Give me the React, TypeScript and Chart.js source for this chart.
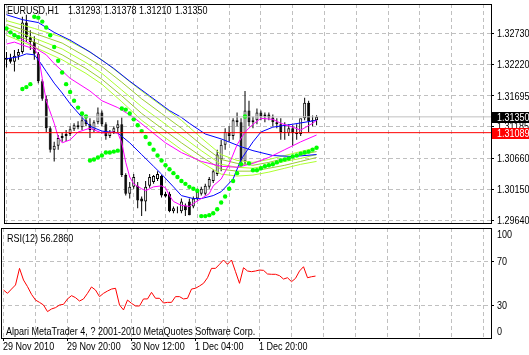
import React, { useEffect, useRef } from "react";
import { Chart, registerables } from "chart.js";

Chart.register(...registerables);

const FONT_FAMILY = "'Liberation Sans', Arial, sans-serif";

// ---------------- texts ----------------
const symbolLabel = "EURUSD,H1";
const lastBarValues = ["1.31293", "1.31378", "1.31210", "1.31350"];
const rsiLabel = "RSI(12) 56.2860";
const copyrightLabel = "Alpari MetaTrader 4, ? 2001-2010 MetaQuotes Software Corp.";

// ---------------- axes ----------------
const timeTickBars = [0, 16, 32, 48, 64];
const timeTickLabels = ["29 Nov 2010", "29 Nov 20:00", "30 Nov 12:00", "1 Dec 04:00", "1 Dec 20:00"];
const gridBars = [0, 8, 16, 24, 32, 40, 48, 56, 64, 72, 80, 88, 96, 104, 112, 120];
const priceTicks = [1.2964, 1.3015, 1.3066, 1.31185, 1.31695, 1.3222, 1.3273];
const rsiTicks = [30, 70];
const rsiEdgeTicks = [100, 0];
const bidPrice = 1.3135;
const markPrice = 1.31089;

// ---------------- candles (H1) ----------------
const opens = [
  1.32294, 1.32326, 1.32262, 1.32359, 1.32423, 1.32908, 1.32666, 1.32585, 1.32391, 1.31939,
  1.31648, 1.31163, 1.30808, 1.30873, 1.31002, 1.31034, 1.31067, 1.31147, 1.31212, 1.31180,
  1.31293, 1.31228, 1.31131, 1.31260, 1.31422, 1.31228, 1.31034, 1.31099, 1.31163, 1.31228,
  1.30388, 1.30081, 1.30194, 1.30210, 1.30000, 1.29952, 1.30210, 1.30275, 1.30323, 1.30372,
  1.30081, 1.30081, 1.29790, 1.29807, 1.29790, 1.29887, 1.29952, 1.29871, 1.30000, 1.30081,
  1.30081, 1.30194, 1.30291, 1.30404, 1.30646, 1.30889, 1.31099, 1.31034, 1.31293, 1.31260,
  1.30614, 1.31454, 1.31260, 1.31293, 1.31422, 1.31357, 1.31390, 1.31341, 1.31260, 1.31228,
  1.31099, 1.31083, 1.31163, 1.31083, 1.31067, 1.31325, 1.31583, 1.31277, 1.31293,
];
const highs = [
  1.32423, 1.32391, 1.32456, 1.32472, 1.33005, 1.33037, 1.32779, 1.32682, 1.32423, 1.31971,
  1.31697, 1.31196, 1.30937, 1.31050, 1.31083, 1.31131, 1.31196, 1.31244, 1.31277, 1.31422,
  1.31357, 1.31325, 1.31293, 1.31503, 1.31454, 1.31260, 1.31131, 1.31196, 1.31293, 1.31341,
  1.30420, 1.30275, 1.30404, 1.30275, 1.30033, 1.30291, 1.30404, 1.30388, 1.30453, 1.30388,
  1.30113, 1.30113, 1.29871, 1.29871, 1.30000, 1.29920, 1.30000, 1.30033, 1.30162, 1.30194,
  1.30243, 1.30356, 1.30485, 1.30808, 1.30970, 1.31163, 1.31196, 1.31325, 1.31422, 1.31325,
  1.31777, 1.31616, 1.31357, 1.31487, 1.31454, 1.31422, 1.31422, 1.31390, 1.31325, 1.31325,
  1.31260, 1.31228, 1.31212, 1.31228, 1.31260, 1.31664, 1.31616, 1.31373, 1.31378,
];
const lows = [
  1.32165, 1.32230, 1.32100, 1.32294, 1.32391, 1.32585, 1.32456, 1.32294, 1.31907, 1.31616,
  1.31099, 1.30760, 1.30614, 1.30808, 1.30937, 1.30953, 1.31034, 1.31115, 1.31147, 1.31131,
  1.31196, 1.31002, 1.31099, 1.31228, 1.31196, 1.30970, 1.31002, 1.31067, 1.31099, 1.30356,
  1.30049, 1.30000, 1.30162, 1.29839, 1.29710, 1.29790, 1.30178, 1.30243, 1.30291, 1.30017,
  1.30017, 1.29774, 1.29758, 1.29758, 1.29758, 1.29710, 1.29726, 1.29839, 1.29968, 1.30049,
  1.30049, 1.30162, 1.30259, 1.30372, 1.30453, 1.30808, 1.30937, 1.30970, 1.31196, 1.30550,
  1.30566, 1.31196, 1.31163, 1.31228, 1.31293, 1.31260, 1.31293, 1.31196, 1.31163, 1.30970,
  1.30970, 1.31034, 1.30873, 1.30970, 1.31034, 1.31293, 1.31099, 1.31196, 1.31210,
];
const closes = [
  1.32326, 1.32262, 1.32359, 1.32423, 1.32908, 1.32666, 1.32585, 1.32391, 1.31939, 1.31648,
  1.31163, 1.30808, 1.30873, 1.31002, 1.31034, 1.31067, 1.31147, 1.31212, 1.31180, 1.31293,
  1.31228, 1.31131, 1.31260, 1.31422, 1.31228, 1.31034, 1.31099, 1.31163, 1.31228, 1.30388,
  1.30081, 1.30194, 1.30356, 1.29968, 1.29952, 1.30194, 1.30356, 1.30372, 1.30404, 1.30049,
  1.30033, 1.29790, 1.29839, 1.29807, 1.29952, 1.29807, 1.29726, 1.30000, 1.30113, 1.30162,
  1.30210, 1.30323, 1.30453, 1.30727, 1.30889, 1.31099, 1.31034, 1.31293, 1.31260, 1.30614,
  1.31454, 1.31260, 1.31293, 1.31422, 1.31357, 1.31390, 1.31341, 1.31260, 1.31228, 1.31099,
  1.31083, 1.31163, 1.31083, 1.31067, 1.31325, 1.31583, 1.31277, 1.31293, 1.31350,
];

// ---------------- moving averages (bar index, price) ----------------
const blueSlowBars = [0, 4, 8, 12, 16, 21, 27, 31, 36, 41, 44, 46, 50, 54, 59, 62, 67, 72, 78];
const blueSlowValues = [1.33037, 1.32956, 1.32908, 1.32746, 1.32617, 1.32423, 1.32149, 1.31939, 1.31697, 1.31454, 1.31341, 1.31244, 1.31067, 1.30986, 1.30857, 1.30792, 1.30711, 1.30695, 1.30727];

const blueFastBars = [0, 3, 5, 7, 8, 10, 12, 14, 16, 19, 21, 24, 28, 31, 34, 37, 39, 42, 44, 47, 49, 52, 54, 57, 59, 62, 64, 67, 72, 78];
const blueFastValues = [1.32310, 1.32343, 1.32391, 1.32375, 1.32294, 1.32100, 1.31907, 1.31745, 1.31567, 1.31341, 1.31196, 1.31115, 1.31083, 1.30921, 1.30727, 1.30533, 1.30404, 1.30194, 1.30049, 1.30000, 1.30000, 1.30049, 1.30113, 1.30323, 1.30646, 1.30937, 1.31099, 1.31180, 1.31228, 1.31293];

const magentaFastBars = [0, 2, 4, 7, 8, 9, 10, 12, 13, 14, 16, 18, 21, 24, 27, 28, 29, 30, 31, 32, 34, 35, 37, 39, 40, 41, 42, 44, 46, 47, 49, 51, 52, 54, 56, 58, 60, 62, 64, 67, 69, 72, 74, 77, 78];
const magentaFastValues = [1.32553, 1.32585, 1.32536, 1.32472, 1.32375, 1.31987, 1.31616, 1.31244, 1.31018, 1.30921, 1.30970, 1.31099, 1.31163, 1.31083, 1.31099, 1.31083, 1.30921, 1.30598, 1.30356, 1.30243, 1.30162, 1.30130, 1.30194, 1.30210, 1.30178, 1.30049, 1.29952, 1.29887, 1.29871, 1.29920, 1.30000, 1.30081, 1.30210, 1.30323, 1.30566, 1.30889, 1.31099, 1.31228, 1.31325, 1.31309, 1.31244, 1.31180, 1.31131, 1.31244, 1.31293];

const magentaSlowBars = [0, 2, 6, 8, 10, 12, 16, 21, 24, 28, 32, 36, 40, 44, 49, 54, 58, 62, 66, 70, 74, 78];
const magentaSlowValues = [1.32779, 1.32698, 1.32553, 1.32456, 1.32375, 1.32230, 1.31987, 1.31777, 1.31616, 1.31503, 1.31341, 1.31131, 1.30921, 1.30760, 1.30614, 1.30533, 1.30517, 1.30582, 1.30679, 1.30808, 1.30937, 1.31050];

// ribbon of slower averages (yellow-green)
const ribbonBars = [0, 7, 14, 20, 24, 29, 34, 39, 44, 49, 54, 58, 62, 66, 70, 74, 78];
const ribbon1 = [1.32940, 1.32811, 1.32666, 1.32456, 1.32294, 1.32036, 1.31777, 1.31535, 1.31293, 1.31002, 1.30727, 1.30630, 1.30598, 1.30646, 1.30711, 1.30776, 1.30840];
const ribbon2 = [1.32876, 1.32730, 1.32569, 1.32343, 1.32181, 1.31923, 1.31648, 1.31406, 1.31163, 1.30889, 1.30646, 1.30582, 1.30550, 1.30598, 1.30663, 1.30727, 1.30776];
const ribbon3 = [1.32827, 1.32650, 1.32472, 1.32246, 1.32068, 1.31793, 1.31519, 1.31277, 1.31034, 1.30792, 1.30566, 1.30517, 1.30501, 1.30550, 1.30614, 1.30663, 1.30727];
const ribbon4 = [1.32763, 1.32585, 1.32375, 1.32149, 1.31971, 1.31697, 1.31406, 1.31163, 1.30921, 1.30695, 1.30485, 1.30453, 1.30453, 1.30501, 1.30550, 1.30614, 1.30679];
const ribbon5 = [1.32698, 1.32504, 1.32294, 1.32068, 1.31890, 1.31600, 1.31293, 1.31050, 1.30808, 1.30598, 1.30404, 1.30372, 1.30388, 1.30437, 1.30501, 1.30566, 1.30614];

// ---------------- parabolic SAR ----------------
const sarValues = [
  1.32811, 1.32746, 1.32698, 1.32666, 1.31810, 1.31842, 1.31890, 1.33005, 1.32989, 1.32924,
  1.32827, 1.32698, 1.32504, 1.32278, 1.32084, 1.31890, 1.31761, 1.31616, 1.31503, 1.31406,
  1.31357, 1.30630, 1.30646, 1.30679, 1.30711, 1.30760, 1.30760, 1.30776, 1.30792, 1.31487,
  1.31470, 1.31406, 1.31309, 1.31212, 1.31115, 1.31018, 1.30905, 1.30808, 1.30711, 1.30630,
  1.30550, 1.30485, 1.30420, 1.30356, 1.30291, 1.30243, 1.30194, 1.30162, 1.30130, 1.29710,
  1.29710, 1.29726, 1.29758, 1.29823, 1.29936, 1.30033, 1.30162, 1.30291, 1.30420, 1.30566,
  1.31357, 1.30582, 1.30469, 1.30469, 1.30501, 1.30533, 1.30550, 1.30566, 1.30598, 1.30630,
  1.30646, 1.30663, 1.30695, 1.30711, 1.30743, 1.30760, 1.30776, 1.30808, 1.30840,
];

// ---------------- RSI(12) ----------------
const rsiValues = [
  43.6, 40.6, 44.5, 48.2, 63.3, 52.7, 46.7, 39.7, 34.5, 32.4,
  30.0, 24.0, 26.4, 27.6, 30.0, 30.6, 35.5, 38.5, 36.7, 33.6,
  35.5, 40.6, 46.4, 43.6, 37.6, 40.6, 42.7, 44.5, 45.2, 30.0,
  25.5, 34.5, 31.5, 29.1, 29.1, 35.5, 35.5, 41.5, 36.1, 36.1,
  31.8, 32.4, 32.4, 37.6, 37.6, 35.5, 36.1, 44.5, 45.2, 47.3,
  49.7, 54.8, 63.3, 63.3, 67.0, 70.9, 67.0, 70.9, 60.3, 49.7,
  63.9, 60.9, 60.3, 60.9, 61.8, 61.5, 58.2, 57.9, 57.9, 56.7,
  53.6, 54.8, 51.2, 54.2, 60.9, 64.8, 54.8, 55.7, 56.286,
];

// ---------------- layout (not data) ----------------
const X_MIN = -0.625;
const X_MAX = 121.875;
const PRICE_MIN = 1.295964;
const PRICE_MAX = 1.332146;
const AXIS_W = 38;
const GRID = "#C0C0C0";
const DASH = [4, 3];
const LABEL_FONT = `11px ${FONT_FAMILY}`;
const NARROW = 0.82;

const pts = (bars: number[], vals: number[]) => bars.map((b, i) => ({ x: b, y: vals[i] }));

// narrow (MT4-like) text drawn at library-computed positions
const narrowText = (ctx: CanvasRenderingContext2D, text: string, x: number, y: number, color = "#000") => {
  ctx.save();
  ctx.translate(x, y);
  ctx.scale(NARROW, 1);
  ctx.font = LABEL_FONT;
  ctx.fillStyle = color;
  ctx.textAlign = "left";
  ctx.textBaseline = "middle";
  ctx.fillText(text, 0, 0);
  ctx.restore();
};

const framePlugin = {
  id: "frame",
  afterDraw(chart: any) {
    const { ctx, chartArea: a } = chart;
    ctx.save();
    ctx.strokeStyle = "#000";
    ctx.lineWidth = 1;
    ctx.strokeRect(a.left + 0.5, a.top + 0.5, a.right - a.left, a.bottom - a.top);
    ctx.restore();
  },
};

const priceLabelPlugin = {
  id: "priceLabels",
  afterDraw(chart: any) {
    const { ctx, chartArea: a } = chart;
    const ys = chart.scales.y;
    ys.ticks.forEach((t: any) => {
      narrowText(ctx, Number(t.value).toFixed(5), a.right + 6, ys.getPixelForValue(t.value) + 0.5);
    });
    const tags = [
      { v: bidPrice, bg: "#000000" },
      { v: markPrice, bg: "#FF0000" },
    ];
    for (const t of tags) {
      const y = Math.round(ys.getPixelForValue(t.v));
      ctx.save();
      ctx.fillStyle = t.bg;
      ctx.fillRect(a.right + 1, y - 5, chart.width - a.right - 1, 11);
      ctx.restore();
      narrowText(ctx, t.v.toFixed(5), a.right + 6, y + 1, "#FFFFFF");
    }
  },
};

const rsiLabelPlugin = {
  id: "rsiLabels",
  afterDraw(chart: any) {
    const { ctx, chartArea: a } = chart;
    const ys = chart.scales.y;
    const xs = chart.scales.x;
    ys.ticks.forEach((t: any) => {
      narrowText(ctx, String(t.value), a.right + 6, ys.getPixelForValue(t.value) + 0.5);
    });
    rsiEdgeTicks.forEach((v) => {
      narrowText(ctx, String(v), a.right + 6, ys.getPixelForValue(v) + (v > 50 ? 7 : -6));
    });
    xs.ticks.forEach((t: any) => {
      const k = timeTickBars.indexOf(t.value);
      if (k >= 0) narrowText(ctx, timeTickLabels[k], xs.getPixelForValue(t.value) - 0.5, a.bottom + 9);
    });
  },
};

export default function App() {
  const mainRef = useRef<HTMLCanvasElement | null>(null);
  const rsiRef = useRef<HTMLCanvasElement | null>(null);

  useEffect(() => {
    document.body.style.margin = "0";

    const lineDs = (label: string, data: any[], color: string, order: number) => ({
      type: "line" as const,
      label,
      data,
      borderColor: color,
      borderWidth: 1,
      pointRadius: 0,
      tension: 0,
      fill: false,
      order,
    });

    const bodyColors = closes.map((c, i) => (c >= opens[i] ? "#FFFFFF" : "#000000"));

    const main = new Chart(mainRef.current!, {
      type: "bar",
      data: {
        datasets: [
          lineDs("mark", [{ x: X_MIN - 1, y: markPrice }, { x: X_MAX + 1, y: markPrice }], "#FF0000", 1),
          lineDs("bid", [{ x: X_MIN - 1, y: bidPrice }, { x: X_MAX + 1, y: bidPrice }], "#C0C0C0", 2),
          {
            type: "line" as const,
            label: "SAR",
            data: sarValues.map((v, i) => ({ x: i, y: v })),
            showLine: false,
            pointRadius: 2.2,
            pointStyle: "circle",
            pointBackgroundColor: "#00FF00",
            pointBorderWidth: 0,
            borderColor: "#00FF00",
            order: 3,
          },
          lineDs("magentaFast", pts(magentaFastBars, magentaFastValues), "#FF00FF", 4),
          lineDs("magentaSlow", pts(magentaSlowBars, magentaSlowValues), "#FF00FF", 4),
          lineDs("blueFast", pts(blueFastBars, blueFastValues), "#0000FF", 5),
          lineDs("blueSlow", pts(blueSlowBars, blueSlowValues), "#0000FF", 5),
          lineDs("r1", pts(ribbonBars, ribbon1), "#ADFF2F", 6),
          lineDs("r2", pts(ribbonBars, ribbon2), "#9ACD32", 6),
          lineDs("r3", pts(ribbonBars, ribbon3), "#ADFF2F", 6),
          lineDs("r4", pts(ribbonBars, ribbon4), "#9ACD32", 6),
          lineDs("r5", pts(ribbonBars, ribbon5), "#ADFF2F", 6),
          {
            type: "bar" as const,
            label: "body",
            data: closes.map((c, i) => ({ x: i, y: [opens[i], c === opens[i] ? c + 0.00002 : c] })),
            backgroundColor: bodyColors,
            borderColor: "#000000",
            borderWidth: 1,
            borderSkipped: false,
            barThickness: 3,
            grouped: false,
            inflateAmount: 0,
            order: 8,
          },
          {
            type: "bar" as const,
            label: "wick",
            data: highs.map((h, i) => ({ x: i, y: [lows[i], h] })),
            backgroundColor: "#000000",
            borderWidth: 0,
            barThickness: 1,
            grouped: false,
            inflateAmount: 0,
            order: 9,
          },
        ] as any,
      },
      options: {
        animation: false,
        responsive: false,
        events: [],
        layout: { padding: { left: 1, top: 1, right: 0, bottom: 2 } },
        plugins: { legend: { display: false }, tooltip: { enabled: false } },
        scales: {
          x: {
            type: "linear",
            min: X_MIN,
            max: X_MAX,
            offset: false,
            afterBuildTicks: (s: any) => {
              s.ticks = gridBars.map((v) => ({ value: v }));
            },
            ticks: { display: false },
            grid: { color: GRID, drawTicks: false, offset: false },
            border: { display: false, dash: DASH },
            afterFit: (s: any) => {
              s.height = 0;
              s.paddingLeft = 0;
              s.paddingRight = 0;
            },
          },
          y: {
            type: "linear",
            position: "right",
            min: PRICE_MIN,
            max: PRICE_MAX,
            beginAtZero: false,
            afterBuildTicks: (s: any) => {
              s.ticks = priceTicks.map((v) => ({ value: v }));
            },
            ticks: { display: false },
            grid: { color: GRID, tickLength: 3, tickColor: "#000", tickBorderDash: [], tickWidth: 1 },
            border: { display: false, dash: DASH },
            afterFit: (s: any) => {
              s.width = AXIS_W;
              s.paddingTop = 0;
              s.paddingBottom = 0;
            },
          },
        },
      } as any,
      plugins: [framePlugin, priceLabelPlugin],
    });

    const rsi = new Chart(rsiRef.current!, {
      type: "line",
      data: {
        datasets: [
          {
            label: "RSI",
            data: rsiValues.map((v, i) => ({ x: i, y: v })),
            borderColor: "#FF0000",
            borderWidth: 1,
            pointRadius: 0,
            tension: 0,
            fill: false,
          },
        ],
      },
      options: {
        animation: false,
        responsive: false,
        events: [],
        layout: { padding: { left: 1, top: 1, right: 0, bottom: 0 } },
        plugins: { legend: { display: false }, tooltip: { enabled: false } },
        scales: {
          x: {
            type: "linear",
            min: X_MIN,
            max: X_MAX,
            offset: false,
            afterBuildTicks: (s: any) => {
              s.ticks = gridBars.map((v) => ({ value: v }));
            },
            ticks: { display: false },
            grid: {
              color: GRID,
              offset: false,
              tickLength: 3,
              tickBorderDash: [],
              tickWidth: 1,
              tickColor: (c: any) =>
                c.tick && timeTickBars.includes(c.tick.value) ? "#000" : "rgba(0,0,0,0)",
            },
            border: { display: false, dash: DASH },
            afterFit: (s: any) => {
              s.height = 17;
              s.paddingLeft = 0;
              s.paddingRight = 0;
            },
          },
          y: {
            type: "linear",
            position: "right",
            min: 0,
            max: 100,
            afterBuildTicks: (s: any) => {
              s.ticks = rsiTicks.map((v) => ({ value: v }));
            },
            ticks: { display: false },
            grid: { color: GRID, tickLength: 3, tickColor: "#000", tickBorderDash: [], tickWidth: 1 },
            border: { display: false, dash: DASH },
            afterFit: (s: any) => {
              s.width = AXIS_W;
              s.paddingTop = 0;
              s.paddingBottom = 0;
            },
          },
        },
      } as any,
      plugins: [framePlugin, rsiLabelPlugin],
    });

    return () => {
      main.destroy();
      rsi.destroy();
    };
  }, []);

  const textStyle: React.CSSProperties = {
    position: "absolute",
    fontFamily: FONT_FAMILY,
    fontSize: 11,
    lineHeight: "11px",
    color: "#000",
    whiteSpace: "pre",
    transform: `scaleX(${NARROW})`,
    transformOrigin: "0 0",
  };
  const valueLefts = [68, 104, 139, 175];

  return (
    <div style={{ position: "fixed", left: 0, top: 0, width: 529, height: 355, background: "#fff", overflow: "hidden" }}>
      <canvas ref={mainRef} width={529} height={227} style={{ position: "absolute", left: 0, top: 0 }} />
      <canvas ref={rsiRef} width={529} height={128} style={{ position: "absolute", left: 0, top: 227 }} />
      <div style={{ ...textStyle, left: 7, top: 5 }}>{symbolLabel}</div>
      {lastBarValues.map((t, i) => (
        <div key={i} style={{ ...textStyle, left: valueLefts[i], top: 5 }}>{t}</div>
      ))}
      <div style={{ ...textStyle, left: 7, top: 233 }}>{rsiLabel}</div>
      <div style={{ ...textStyle, left: 6, top: 326 }}>{copyrightLabel}</div>
    </div>
  );
}
